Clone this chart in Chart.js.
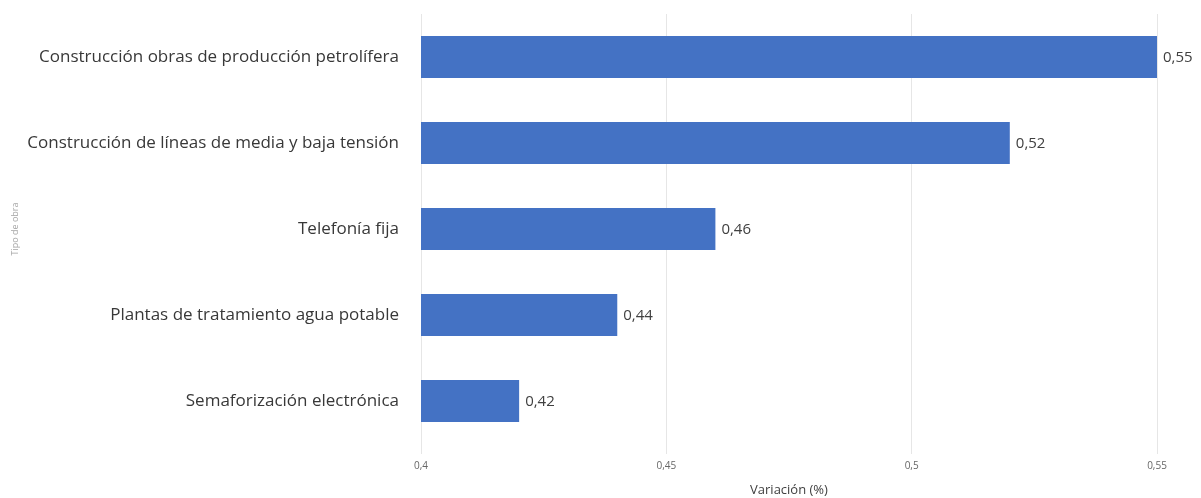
<!DOCTYPE html>
<html>
<head>
<meta charset="utf-8">
<script src="https://cdn.jsdelivr.net/npm/chart.js@4.4.0/dist/chart.umd.min.js"></script>
<style>
  html, body { margin: 0; padding: 0; background: #fff; }
  #wrap { width: 1201px; height: 498px; }
</style>
</head>
<body>
<div id="wrap"><canvas id="chart"></canvas></div>
<script>
// datos
const categorias = [
  'Construcción obras de producción petrolífera',
  'Construcción de líneas de media y baja tensión',
  'Telefonía fija',
  'Plantas de tratamiento agua potable',
  'Semaforización electrónica'
];
const variacion = [0.55, 0.52, 0.46, 0.44, 0.42];
const ticksX = [0.4, 0.45, 0.5, 0.55];

const fmt = v => String(v).replace('.', ',');

// etiquetas al final de cada barra
const etiquetasBarras = {
  id: 'etiquetasBarras',
  afterDatasetsDraw(chart) {
    const ctx = chart.ctx;
    const meta = chart.getDatasetMeta(0);
    ctx.save();
    ctx.font = '15px "Open Sans"';
    ctx.fillStyle = '#404040';
    ctx.textAlign = 'left';
    ctx.textBaseline = 'middle';
    meta.data.forEach((bar, i) => {
      ctx.fillText(fmt(variacion[i]), bar.x + 6, bar.y + 1);
    });
    ctx.restore();
  }
};

new Chart(document.getElementById('chart'), {
  type: 'bar',
  data: {
    labels: categorias,
    datasets: [{
      data: variacion,
      backgroundColor: '#4472C4',
      categoryPercentage: 0.98,
      barPercentage: 0.5
    }]
  },
  options: {
    indexAxis: 'y',
    responsive: true,
    maintainAspectRatio: false,
    animation: false,
    layout: { padding: { top: 14, right: 44, bottom: 0, left: 0 } },
    plugins: {
      legend: { display: false },
      tooltip: { enabled: false }
    },
    scales: {
      x: {
        min: 0.4,
        max: 0.55,
        afterBuildTicks: s => { s.ticks = ticksX.map(v => ({ value: v })); },
        afterFit: s => { s.height = 54; },
        grid: { color: '#e6e6e6', drawTicks: true, tickLength: 10 },
        border: { display: false },
        ticks: {
          callback: v => fmt(v),
          font: { family: '"Liberation Sans Narrow", "Open Sans"', size: 10 },
          color: '#666666',
          padding: 6
        },
        title: {
          display: true,
          text: 'Variación (%)',
          font: { family: '"Open Sans"', size: 13 },
          color: '#404040',
          padding: { top: 6, bottom: 0 }
        }
      },
      y: {
        grid: { display: false },
        border: { display: false },
        afterFit: s => { s.width = 421; s.paddingTop = 0; s.paddingBottom = 0; },
        ticks: {
          font: { family: '"Open Sans"', size: 17 },
          color: '#383838',
          padding: 14
        },
        title: {
          display: true,
          text: 'Tipo de obra',
          font: { family: '"Open Sans"', size: 9 },
          color: '#a6a6a6',
          padding: { top: 10, bottom: 0 }
        }
      }
    }
  },
  plugins: [etiquetasBarras]
});
</script>
</body>
</html>
